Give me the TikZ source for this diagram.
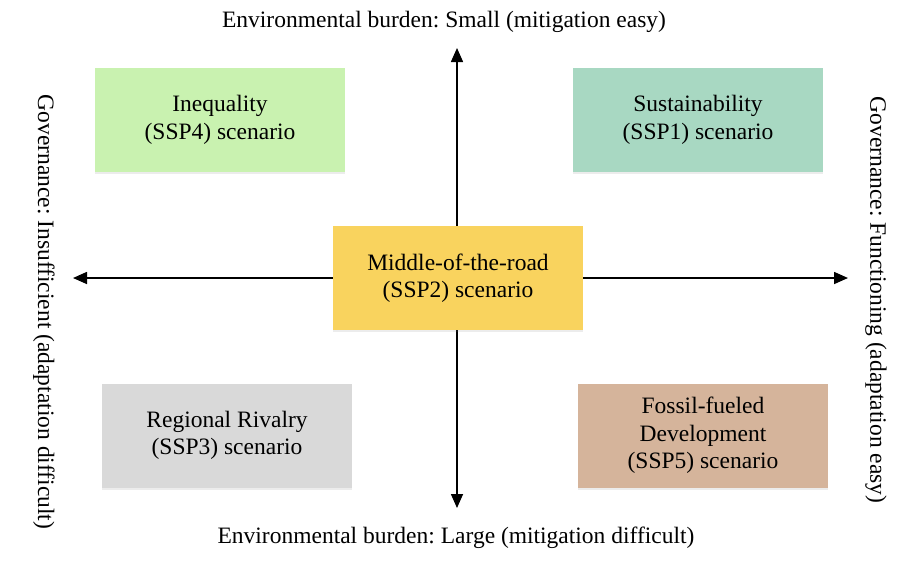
\documentclass[tikz,border=0pt]{standalone}
\usepackage{fontspec}
\setmainfont{Liberation Serif}
\frenchspacing
\usetikzlibrary{arrows.meta,shadows}
\definecolor{cIneq}{HTML}{C9F2B0}
\definecolor{cSust}{HTML}{A8D8C2}
\definecolor{cMid}{HTML}{F9D35E}
\definecolor{cReg}{HTML}{D9D9D9}
\definecolor{cFos}{HTML}{D5B49B}
\begin{document}
\begin{tikzpicture}[x=1pt,y=-1pt,
  scen/.style={minimum width=250pt,minimum height=104pt,align=center,inner sep=0pt,
    font=\fontsize{23.5}{27.5}\selectfont,
    drop shadow={shadow xshift=0pt,shadow yshift=-2pt,opacity=0.15}},
  axis/.style={line width=1.6pt,-{Triangle[length=14pt,width=12pt]}},
  lab/.style={font=\fontsize{23.5}{27}\selectfont,inner sep=0pt}]
\useasboundingbox (0,0) rectangle (914,563);
\coordinate (C) at (457,278);
\coordinate (T) at (457,48);
\coordinate (B) at (457,508);
\coordinate (L) at (73,278);
\coordinate (R) at (848,278);
\draw[axis] (C) -- (T);
\draw[axis] (C) -- (B);
\draw[axis] (C) -- (L);
\draw[axis] (C) -- (R);
\node[scen,fill=cIneq] (ineq) at (220,120) {Inequality\\(SSP4) scenario};
\node[scen,fill=cSust] (sust) at (698,120) {Sustainability\\(SSP1) scenario};
\node[scen,fill=cMid] (mid) at (458,278) {Middle-of-the-road\\(SSP2) scenario};
\node[scen,fill=cReg] (reg) at (227,435.5) {Regional Rivalry\\(SSP3) scenario};
\node[scen,fill=cFos] (fos) at (703,435.5) {Fossil-fueled\\Development\\(SSP5) scenario};
\node[lab] (top) at (444,22) {Environmental burden: Small (mitigation easy)};
\node[lab] (bot) at (456,538) {Environmental burden: Large (mitigation difficult)};
\node[lab,rotate=-90] (left) at (44,312) {Governance: Insufficient (adaptation difficult)};
\node[lab,rotate=-90] (right) at (876,300) {Governance: Functioning (adaptation easy)};
\end{tikzpicture}
\end{document}
